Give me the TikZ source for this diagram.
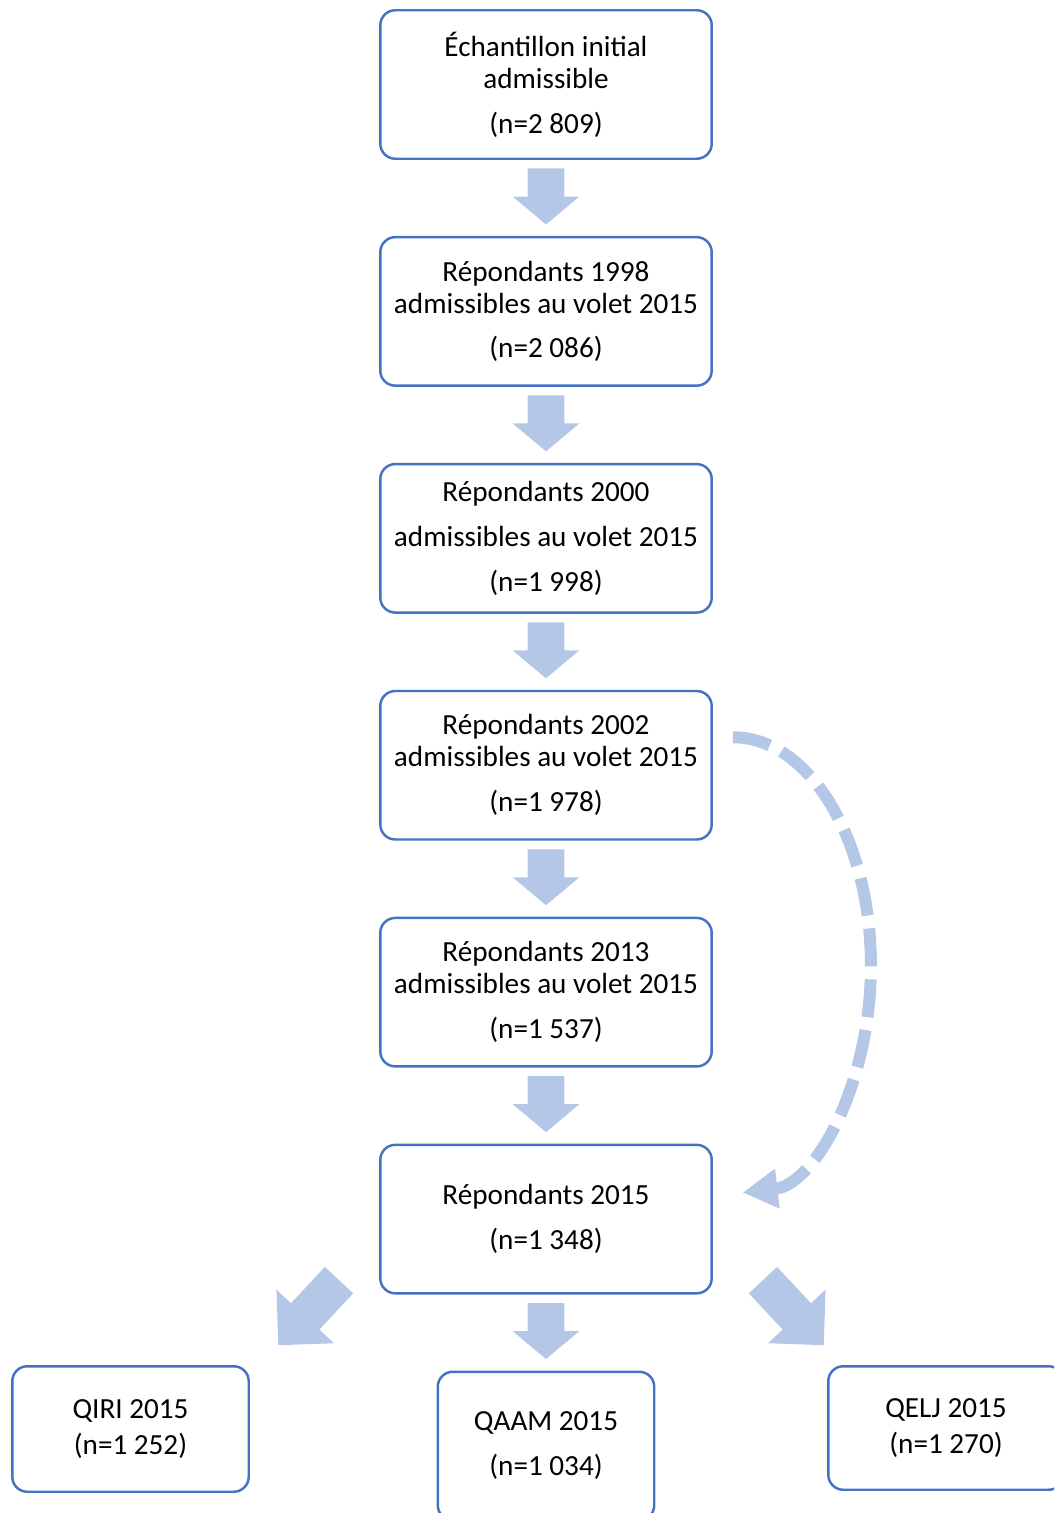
\documentclass[tikz,border=0pt]{standalone}
\usepackage{fontspec}
\setmainfont{Carlito}
\usetikzlibrary{positioning,arrows.meta,shapes.arrows,calc}
\definecolor{boxline}{HTML}{4472C4}
\definecolor{flow}{HTML}{B4C7E7}

\begin{document}
\begin{tikzpicture}[x=0.02cm,y=-0.02cm,
    every node/.style={font=\fontsize{16.6}{18.2}\selectfont},
    stage/.style={draw=boxline,line width=1.4pt,rounded corners=0.3cm,align=center,
      minimum width=6.63cm,minimum height=2.97cm,inner sep=0pt},
    flowdown/.style={single arrow,fill=flow,rotate=-90,anchor=tip,inner xsep=0pt,inner ysep=0.36cm,
      single arrow head extend=0.3cm,single arrow tip angle=100,minimum height=1.12cm},
    flowdiag/.style={single arrow,fill=flow,anchor=tip,inner xsep=0pt,inner ysep=0.38cm,
      single arrow head extend=0.4cm,single arrow tip angle=90,minimum height=1.78cm},
    dasharrow/.style={flow,line width=0.24cm,dash pattern=on 0.76cm off 0.26cm,
      -{Triangle[length=0.7cm,width=0.75cm]}}]
    \useasboundingbox (0,0) rectangle (1054,1513);
    \clip (0,0) rectangle (1054,1513);
    % main column of samples
    \node[stage] (b1) at (546,84.5) {Échantillon initial\\admissible\\[7.4pt](n=2 809)};
    \node[stage,below=1.52cm of b1] (b2) {Répondants 1998\\admissibles au volet 2015\\[7.4pt](n=2 086)};
    \node[stage,below=1.52cm of b2] (b3) {Répondants 2000\\[7.4pt]admissibles au volet 2015\\[7.4pt](n=1 998)};
    \node[stage,below=1.52cm of b3] (b4) {Répondants 2002\\admissibles au volet 2015\\[7.4pt](n=1 978)};
    \node[stage,below=1.52cm of b4] (b5) {Répondants 2013\\admissibles au volet 2015\\[7.4pt](n=1 537)};
    \node[stage,below=1.52cm of b5] (b6) {Répondants 2015\\[7.4pt](n=1 348)};
    % 2015 questionnaires
    \node[stage,minimum width=4.73cm,minimum height=2.51cm] (qiri) at (130.5,1429) {QIRI 2015\\[2.8pt](n=1 252)};
    \node[stage,minimum width=4.33cm,below=1.52cm of b6] (qaam) {QAAM 2015\\[7.4pt](n=1 034)};
    \node[stage,minimum width=4.71cm,minimum height=2.47cm] (qelj) at (946,1428) {QELJ 2015\\[2.8pt](n=1 270)};
    % block arrows
    \foreach \a/\b in {b1/b2,b2/b3,b3/b4,b4/b5,b5/b6,b6/qaam}
      \node[flowdown] (\a-\b) at ($(\b.north)+(0,-11)$) {};
    \node[flowdiag,rotate=227] (b6-qiri) at ($(b6.south)+(-268,51)$) {};
    \node[flowdiag,rotate=-47] (b6-qelj) at ($(b6.south)+(278,51)$) {};
    % 2002 respondents straight to 2015
    \draw[dasharrow] ($(b4.east)+(20,-28)$) arc[start angle=90,end angle=-86,x radius=2.76cm,y radius=4.56cm];
\end{tikzpicture}
\end{document}
